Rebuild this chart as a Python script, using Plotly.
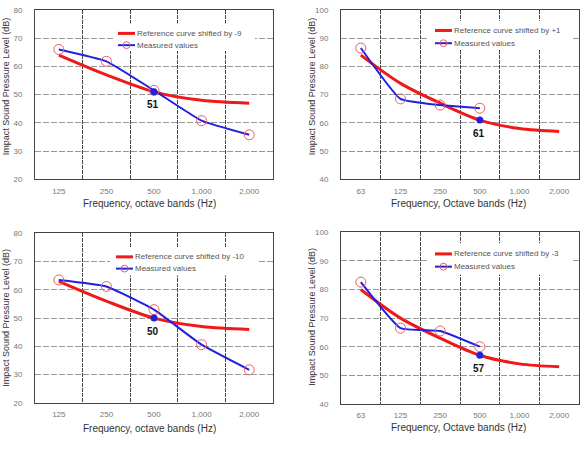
import plotly.graph_objects as go

W, H = 584, 452

# ---------------- data ----------------
freq_a = ["125", "250", "500", "1,000", "2,000"]
freq_b = ["63", "125", "250", "500", "1,000", "2,000"]

ref1 = [64, 57, 51, 48, 47]
meas1 = [66, 61.8, 51.5, 40.8, 35.8]
ref2 = [84, 74, 67, 61, 58, 57]
meas2 = [86.5, 68.5, 66.3, 65.2]
ref3 = [63, 56, 50, 47, 46]
meas3 = [63.5, 61.2, 53, 40.6, 31.7]
ref4 = [80, 70, 63, 57, 54, 53]
meas4 = [82.6, 66.5, 65.5, 60]

ratings = [51, 61, 50, 57]
shifts = ["-9", "+1", "-10", "-3"]
xtitles = ["Frequency, octave bands (Hz)", "Frequency, Octave bands (Hz)",
           "Frequency, octave bands (Hz)", "Frequency, Octave bands (Hz)"]
ytitle = "Impact Sound Pressure Level (dB)"
yranges = [(20, 80), (40, 100), (20, 80), (40, 100)]

panels = [
    (freq_a, ref1, meas1),
    (freq_b, ref2, meas2),
    (freq_a, ref3, meas3),
    (freq_b, ref4, meas4),
]

# ---------------- layout helpers (pixel boxes) ----------------
boxes = [  # left, right, top, bottom in px
    (35, 273, 6, 179),
    (341, 579, 6, 179),
    (35, 273, 234, 407),
    (341, 579, 233, 408),
]
legend_boxes = [  # bg rect x0,x1,y0,y1 ; line start x ; row1 y ; row2 y
    (113, 255, 20, 48, 118, 30, 42),
    (428, 572, 17, 47, 435, 27, 40),
    (110, 257, 248, 277, 116, 258, 270),
    (428, 572, 244, 276, 435, 255, 268),
]
ytitle_pos = [(6, 84), (312, 84), (6, 320), (312, 319)]
xtitle_pos = [(149, 204), (458, 204), (149, 433), (458, 432)]

def px(x):
    return x / W

def py(y):
    return 1 - y / H

RED = "#f01818"
BLUE = "#2020e0"
CIRC = "#e86060"
FONT = "Liberation Sans, Arial, sans-serif"

fig = go.Figure()
shapes = []
annotations = []

for i, (freqs, ref, meas) in enumerate(panels):
    k = "" if i == 0 else str(i + 1)
    xa, ya = "x" + k, "y" + k
    L, R, T, B = boxes[i]
    n = len(freqs)
    xs = list(range(n))

    fig.add_trace(go.Scatter(
        x=xs[:len(ref)], y=ref, mode="lines", xaxis=xa, yaxis=ya,
        line=dict(color=RED, width=3, shape="spline", smoothing=0.9),
        showlegend=False, hoverinfo="skip"))
    fig.add_trace(go.Scatter(
        x=xs[:len(meas)], y=meas, mode="lines+markers", xaxis=xa, yaxis=ya,
        line=dict(color=BLUE, width=2, shape="spline", smoothing=0.4),
        marker=dict(symbol="circle-open", size=10, color=CIRC,
                    line=dict(color=CIRC, width=1)),
        showlegend=False, hoverinfo="skip"))
    ri = freqs.index("500")
    fig.add_trace(go.Scatter(
        x=[ri], y=[ratings[i]], mode="markers", xaxis=xa, yaxis=ya,
        marker=dict(symbol="circle", size=7, color=BLUE),
        showlegend=False, hoverinfo="skip"))
    annotations.append(dict(
        x=ri, y=ratings[i], xref=xa, yref=ya, text="<b>%d</b>" % ratings[i],
        showarrow=False, yshift=-13, xshift=-1,
        font=dict(family=FONT, size=10, color="#111")))

    axis_common = dict(showline=True, mirror=True, linecolor="#444",
                       linewidth=1, zeroline=False, ticks="",
                       tickfont=dict(family=FONT, size=8, color="#777"))
    fig.update_layout(**{
        "xaxis" + k: dict(
            domain=[px(L), px(R)], anchor=ya, range=[-0.5, n - 0.5],
            tickmode="array", tickvals=xs, ticktext=freqs, showgrid=False,
            ticklabelstandoff=4,
            minor=dict(tick0=0.5, dtick=1, showgrid=True, gridcolor="#444",
                       griddash="4px,1px", gridwidth=1, ticks=""),
            **axis_common),
        "yaxis" + k: dict(
            domain=[py(B), py(T)], anchor=xa, range=list(yranges[i]),
            dtick=10, showgrid=True, gridcolor="#999",
            griddash="6px,2px", gridwidth=1, ticklabelstandoff=10,
            **axis_common),
    })

    # legend (drawn)
    bx0, bx1, by0, by1, lx, r1, r2 = legend_boxes[i]
    shapes.append(dict(type="rect", xref="paper", yref="paper",
                       x0=px(bx0), x1=px(bx1), y0=py(by1), y1=py(by0),
                       fillcolor="white", line=dict(width=0), layer="above"))
    shapes.append(dict(type="line", xref="paper", yref="paper",
                       x0=px(lx), x1=px(lx + 17), y0=py(r1), y1=py(r1),
                       line=dict(color=RED, width=3), layer="above"))
    shapes.append(dict(type="line", xref="paper", yref="paper",
                       x0=px(lx), x1=px(lx + 17), y0=py(r2), y1=py(r2),
                       line=dict(color=BLUE, width=2), layer="above"))
    shapes.append(dict(type="circle", xref="paper", yref="paper",
                       x0=px(lx + 5), x1=px(lx + 12), y0=py(r2 + 3.5),
                       y1=py(r2 - 3.5), line=dict(color=CIRC, width=1),
                       layer="above"))
    annotations.append(dict(
        x=px(lx + 17), y=py(r1), xref="paper", yref="paper",
        xanchor="left", yanchor="middle", showarrow=False,
        text="Reference curve shifted by " + shifts[i],
        font=dict(family=FONT, size=8, color="#555")))
    annotations.append(dict(
        x=px(lx + 17), y=py(r2), xref="paper", yref="paper",
        xanchor="left", yanchor="middle", showarrow=False,
        text="Measured values",
        font=dict(family=FONT, size=8, color="#555")))

    tx, ty = ytitle_pos[i]
    annotations.append(dict(
        x=px(tx), y=py(ty), xref="paper", yref="paper", textangle=-90,
        xanchor="center", yanchor="middle", showarrow=False, text=ytitle,
        font=dict(family=FONT, size=9, color="#333")))
    qx, qy = xtitle_pos[i]
    annotations.append(dict(
        x=px(qx), y=py(qy), xref="paper", yref="paper",
        xanchor="center", yanchor="middle", showarrow=False, text=xtitles[i],
        font=dict(family=FONT, size=10, color="#333")))

fig.update_layout(
    width=W, height=H, margin=dict(l=0, r=0, t=0, b=0),
    paper_bgcolor="white", plot_bgcolor="white",
    showlegend=False, shapes=shapes, annotations=annotations,
)

fig.write_html("out.html")
